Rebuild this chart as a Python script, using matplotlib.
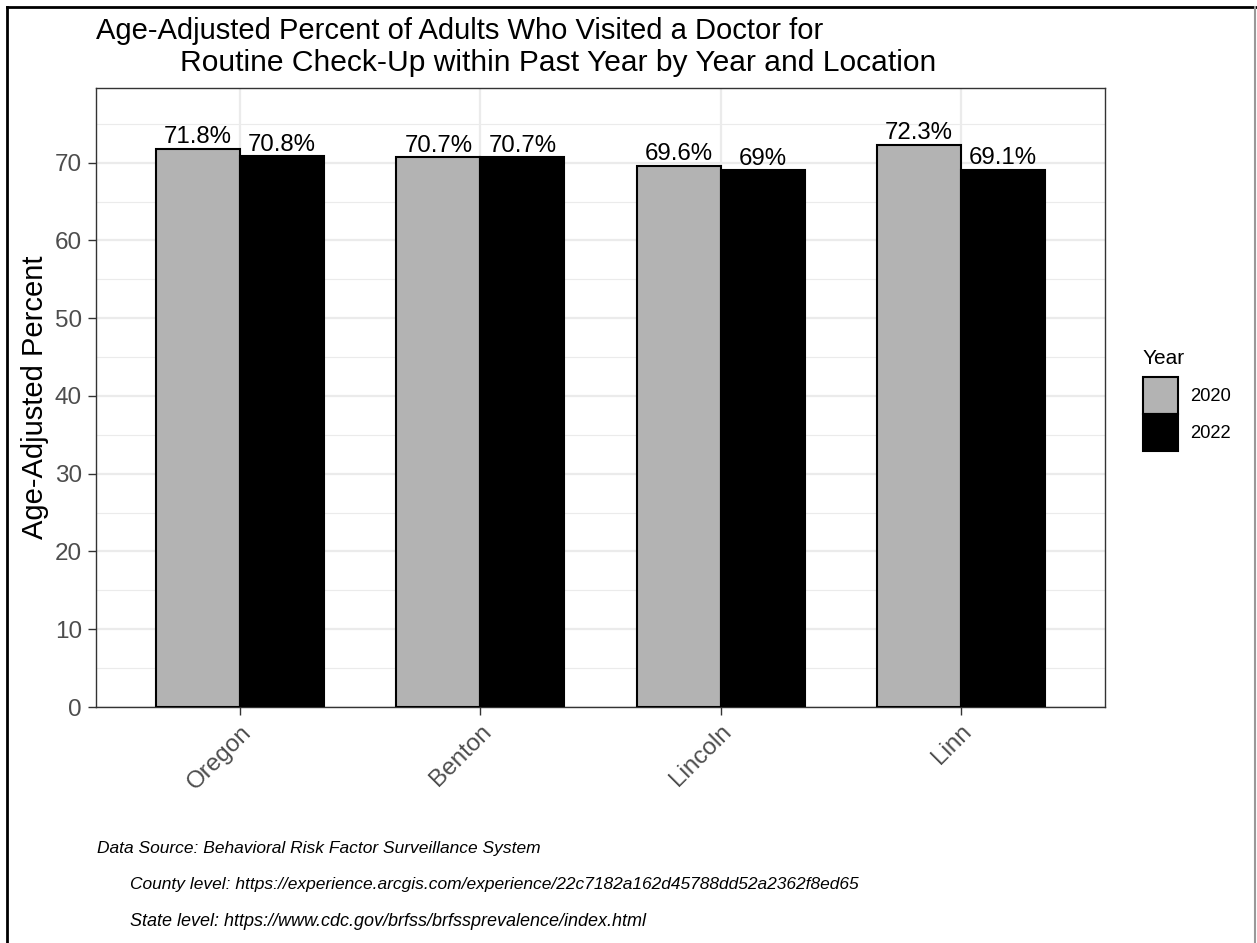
import matplotlib
matplotlib.use("Agg")
import matplotlib.pyplot as plt
from matplotlib.lines import Line2D
from matplotlib.patches import Patch
import numpy as np

plt.rcParams['font.family'] = ['Liberation Sans', 'DejaVu Sans']

locations = ["Oregon", "Benton", "Lincoln", "Linn"]
years = ["2020", "2022"]
values_2020 = [71.8, 70.7, 69.6, 72.3]
values_2022 = [70.8, 70.7, 69.0, 69.1]
labels_2020 = ["71.8%", "70.7%", "69.6%", "72.3%"]
labels_2022 = ["70.8%", "70.7%", "69%", "69.1%"]
colors = {"2020": "#B3B3B3", "2022": "#000000"}

W, H = 1257, 943
fig = plt.figure(figsize=(W / 100, H / 100), dpi=100)
ax = fig.add_axes([96 / W, 1 - 707 / H, (1105 - 96) / W, (707 - 88) / H])

x = np.arange(len(locations))
bw = 0.35
for off, yr, vals, labs in [(-bw / 2, "2020", values_2020, labels_2020),
                            (bw / 2, "2022", values_2022, labels_2022)]:
    ax.bar(x + off, vals, width=bw, color=colors[yr], edgecolor="black",
           linewidth=1.5, zorder=3)
    for xi, v, lab in zip(x + off, vals, labs):
        ax.annotate(lab, (xi, v), xytext=(0, 0.5), textcoords="offset points",
                    ha="center", va="bottom", fontsize=17.3, color="black", zorder=4)

ax.set_xlim(-0.6, 3.6)
ax.set_ylim(0, 79.6)
ax.set_yticks(np.arange(0, 80, 10))
ax.set_yticks(np.arange(5, 80, 10), minor=True)
ax.set_xticks(x)
ax.set_xticklabels(locations, rotation=45, ha="right", rotation_mode="anchor",
                   fontsize=17.5, color="#4D4D4D")
ax.tick_params(axis="y", which="major", labelsize=17.5, labelcolor="#4D4D4D",
               color="#333333", length=6, width=1, pad=4)
ax.tick_params(axis="y", which="minor", length=0)
ax.tick_params(axis="x", color="#333333", length=6, width=1, pad=4)
ax.grid(True, which="major", color="#EBEBEB", linewidth=1.6, zorder=0)
ax.grid(True, which="minor", axis="y", color="#EBEBEB", linewidth=0.8, zorder=0)
ax.set_axisbelow(True)
for s in ax.spines.values():
    s.set_color("#333333")
    s.set_linewidth(1)

ax.set_ylabel("Age-Adjusted Percent", fontsize=21, labelpad=4)

fig.text(96 / W, 1 - 31 / H,
         "Age-Adjusted Percent of Adults Who Visited a Doctor for",
         fontsize=21, ha="left", va="center")
fig.text(180 / W, 1 - 63 / H,
         "Routine Check-Up within Past Year by Year and Location",
         fontsize=21.6, ha="left", va="center")

fig.text(1143 / W, 1 - 358 / H, "Year", fontsize=15, ha="left", va="center")
handles = [Patch(facecolor=colors[y], edgecolor="black", linewidth=1.5, label=y)
           for y in years]
leg = fig.legend(handles=handles, loc="upper left",
                 bbox_to_anchor=(1135.7 / W, 1 - 369.7 / H), frameon=False,
                 fontsize=13.2, handlelength=1.9,
                 handleheight=2.73, handletextpad=0.65, labelspacing=0.0,
                 borderaxespad=0.0)

fig.text(97 / W, 1 - 848 / H,
         "Data Source: Behavioral Risk Factor Surveillance System",
         fontsize=12.5, style="italic", ha="left", va="center")
fig.text(130 / W, 1 - 885 / H,
         "County level: https://experience.arcgis.com/experience/22c7182a162d45788dd52a2362f8ed65",
         fontsize=12.5, style="italic", ha="left", va="center")
fig.text(130 / W, 1 - 921 / H,
         "State level: https://www.cdc.gov/brfss/brfssprevalence/index.html",
         fontsize=13.0, style="italic", ha="left", va="center")

fig.add_artist(Line2D([7 / W, 1], [1 - 7 / H, 1 - 7 / H], color="black",
                      linewidth=2, transform=fig.transFigure))
fig.add_artist(Line2D([7 / W, 7 / W], [0, 1 - 7 / H], color="black",
                      linewidth=2, transform=fig.transFigure))
fig.add_artist(Line2D([1255 / W, 1255 / W], [0, 1 - 7 / H], color="#999999",
                      linewidth=1.5, transform=fig.transFigure))

fig.savefig("out.png", dpi=100)
